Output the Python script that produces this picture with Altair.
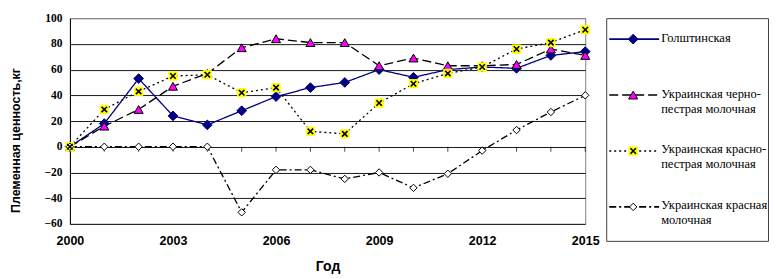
import altair as alt
import pandas as pd

years = list(range(2000, 2016))
holstein = [0, 18, 53, 24, 17, 28, 39, 46, 50, 60, 54, 60, 62, 61, 71, 74]
black_pied = [0, 16, 29, 47, 57, 77, 84, 81, 81, 63, 69, 63, 63, 64, 76, 71]
red_pied = [0, 29, 43, 55, 56, 42, 46, 12, 10, 34, 49, 57, 62, 76, 81, 91]
red_dairy = [0, 0, 0, 0, 0, -51, -18, -18, -25, -20, -32, -21, -3, 13, 27, 40]

series_names = [
    "Голштинская",
    "Украинская черно-пестрая молочная",
    "Украинская красно-пестрая молочная",
    "Украинская красная молочная",
]
legend_labels = [
    "Голштинская",
    "Украинская черно-\nпестрая молочная",
    "Украинская красно-\nпестрая молочная",
    "Украинская красная\nмолочная",
]
x_label_years = [2000, 2003, 2006, 2009, 2012, 2015]
y_ticks = [-60, -40, -20, 0, 20, 40, 60, 80, 100]

SERIF_A = "serif"
SERIF_B = "Times New Roman"
SANS = "Liberation Sans"

rows = []
for name, vals in zip(series_names, [holstein, black_pied, red_pied, red_dairy]):
    for yr, v in zip(years, vals):
        rows.append({"year": yr, "value": v, "series": name})
df = pd.DataFrame(rows)
tick_df = pd.DataFrame({"year": years, "value": [0] * len(years)})
leg_df = pd.DataFrame({"series": series_names, "label": legend_labels,
                       "row": list(range(len(series_names)))})

color_scale = alt.Scale(domain=series_names, range=["#000080", "black", "black", "black"])
dash_scale = alt.Scale(domain=series_names, range=[[1, 0], [9, 4], [2, 3], [7, 3, 2, 3]])
shape_scale = alt.Scale(domain=series_names, range=["diamond", "triangle-up", "square", "diamond"])
fill_scale = alt.Scale(domain=series_names, range=["#000080", "#FF00FF", "#FFFF00", "white"])
stroke_scale = alt.Scale(domain=series_names, range=["#000080", "black", "#FFFF00", "black"])
size_scale = alt.Scale(domain=series_names, range=[95, 55, 85, 32])

X = alt.X("year:Q", scale=alt.Scale(domain=[2000, 2015], nice=False, zero=False),
          axis=alt.Axis(values=x_label_years, format="d", grid=False, ticks=False, domain=False,
                        labelFont=SANS, labelFontWeight="bold", labelFontSize=12.5,
                        labelColor="black", labelPadding=11, labelFlush=False,
                        title="Год", titleFont=SANS, titleFontWeight="bold",
                        titleFontSize=14, titleColor="black", titlePadding=12))
Y = alt.Y("value:Q", scale=alt.Scale(domain=[-60, 100], nice=False, zero=False),
          axis=alt.Axis(values=y_ticks, grid=True,
                        gridColor={"condition": {"test": "datum.value == 100", "value": "#808080"},
                                   "value": "#1a1a1a"},
                        ticks=False, domainColor="black",
                        labelFont=SERIF_B, labelFontWeight="bold", labelFontSize=11.5,
                        labelColor="black", labelPadding=8, labelFlush=False,
                        title="Племенная ценность,кг", titleFont=SANS,
                        titleFontWeight="bold", titleFontSize=12.5, titleColor="black",
                        titleX=-54, titleY=122, titleBaseline="middle"))

base = alt.Chart(df)
lines = base.mark_line(strokeWidth=1.3).encode(
    x=X, y=Y,
    color=alt.Color("series:N", scale=color_scale, legend=None),
    strokeDash=alt.StrokeDash("series:N", scale=dash_scale, legend=None),
    detail="series:N",
)
points = base.mark_point(opacity=1, fillOpacity=1, strokeWidth=1).encode(
    x=X, y=Y,
    shape=alt.Shape("series:N", scale=shape_scale, legend=None),
    fill=alt.Fill("series:N", scale=fill_scale, legend=None),
    stroke=alt.Stroke("series:N", scale=stroke_scale, legend=None),
    size=alt.Size("series:N", scale=size_scale, legend=None),
)
xglyph = base.transform_filter(alt.datum.series == series_names[2]).mark_point(
    shape="M-1,-1L1,1M1,-1L-1,1", stroke="black", strokeWidth=1.6, size=30, opacity=1
).encode(x=X, y=Y)
ticks = alt.Chart(tick_df).mark_tick(orient="vertical", size=5, yOffset=2.5, thickness=1,
                                     color="black").encode(x=X, y=Y)

main = alt.layer(ticks, lines, points, xglyph).properties(
    width=516, height=206,
    title=alt.Title(" ", fontSize=3, offset=0),
    view=alt.ViewBackground(stroke="#808080", strokeWidth=1),
)

RY = alt.Y("row:Q", scale=alt.Scale(domain=[-0.375, 3.607], reverse=True, nice=False, zero=False),
           axis=None)
lb = alt.Chart(leg_df)
leg_rule = lb.mark_rule(strokeWidth=1.6).encode(
    x=alt.value(3), x2=alt.value(53), y=RY,
    color=alt.Color("series:N", scale=color_scale, legend=None),
    strokeDash=alt.StrokeDash("series:N", scale=dash_scale, legend=None),
)
leg_pts = lb.mark_point(opacity=1, fillOpacity=1, strokeWidth=1).encode(
    x=alt.value(27), y=RY,
    shape=alt.Shape("series:N", scale=shape_scale, legend=None),
    fill=alt.Fill("series:N", scale=fill_scale, legend=None),
    stroke=alt.Stroke("series:N", scale=stroke_scale, legend=None),
    size=alt.Size("series:N", scale=size_scale, legend=None),
)
leg_x = lb.transform_filter(alt.datum.series == series_names[2]).mark_point(
    shape="M-1,-1L1,1M1,-1L-1,1", stroke="black", strokeWidth=1.6, size=30, opacity=1
).encode(x=alt.value(27), y=RY)
leg_text = lb.mark_text(align="left", baseline="top", dy=-7.5, lineBreak="\n",
                        font=SERIF_A, fontSize=12.5, lineHeight=15, clip=True,
                        color="black").encode(x=alt.value(55), y=RY, text="label:N")
legend = alt.layer(leg_rule, leg_pts, leg_x, leg_text).properties(
    width=162, height=223,
    view=alt.ViewBackground(stroke="#404040", strokeWidth=1),
)

chart = alt.hconcat(main, legend, spacing=5).properties(
    padding={"left": 1, "top": 0, "right": 0, "bottom": 0}, background="white"
).resolve_scale(color="independent", strokeDash="independent", shape="independent",
                fill="independent", stroke="independent", size="independent")

chart.save("out.html", embed_options={"renderer": "svg", "actions": False})
